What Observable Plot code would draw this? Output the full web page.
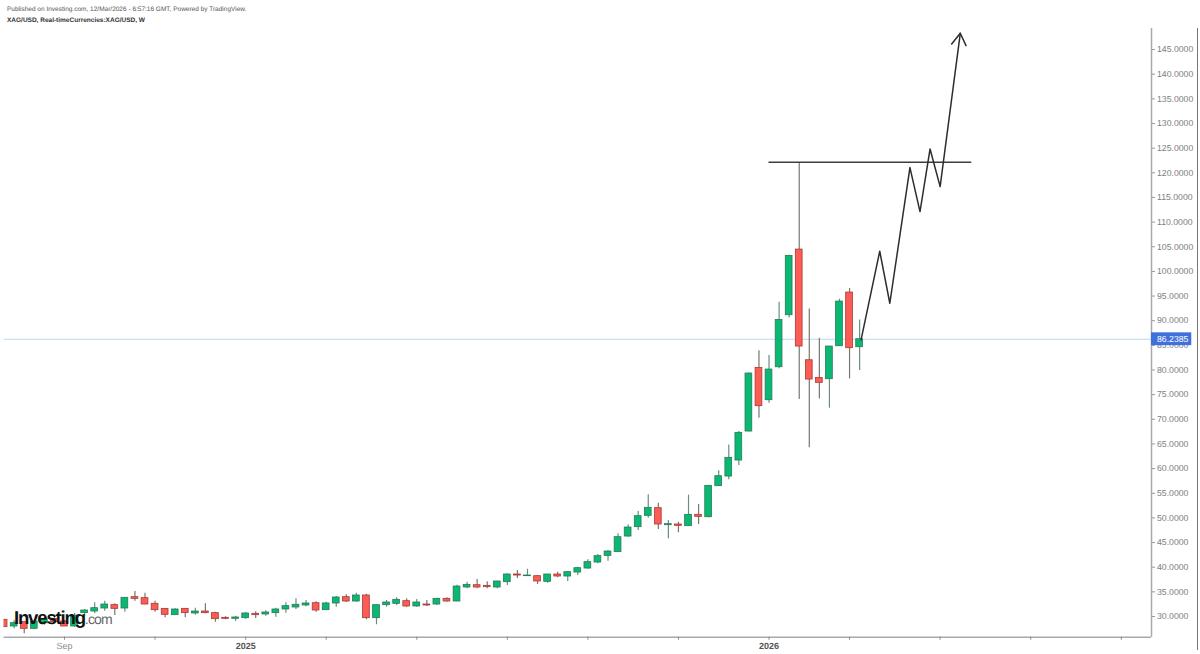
<!DOCTYPE html>
<html><head><meta charset="utf-8">
<script src="https://cdn.jsdelivr.net/npm/d3@7"></script>
<script src="https://cdn.jsdelivr.net/npm/@observablehq/plot@0.6"></script>
<style>
html,body{margin:0;padding:0;background:#fff;overflow:hidden;width:1200px;height:654px;font-family:"Liberation Sans",Arial,sans-serif;text-rendering:geometricPrecision}
#hdr{height:28px;box-sizing:border-box;padding:3.5px 0 0 7px;color:#555;font-size:6.5px;line-height:11px;white-space:nowrap}
#hdr b{color:#333}
#wm{position:absolute;left:14px;top:603px;white-space:nowrap;line-height:30px}
#wm .a{font-size:18.6px;font-weight:700;color:#111;letter-spacing:-1.2px}
#wm .b{font-size:14px;color:#666;letter-spacing:-.8px}
svg{display:block}
svg text{text-rendering:geometricPrecision}
</style></head><body>
<div id="hdr">Published on Investing.com, 12/Mar/2026 - 6:57:16 GMT, Powered by TradingView.<br><b>XAG/USD, Real-timeCurrencies:XAG/USD, W</b></div>
<div id="chart"></div>
<div id="wm"><span class="a">Investing</span><span class="b">.com</span></div>
<script>
const open = [29.32,27.97,28.85,27.50,28.6,29.5,28.99,27.97,30.68,31.01,31.62,32.30,31.62,33.92,33.72,32.57,31.55,30.27,31.55,30.61,31.01,30.68,29.73,29.53,29.66,30.54,30.41,30.68,31.42,31.83,32.23,32.70,31.28,32.64,33.92,33.04,34.26,29.66,32.30,32.57,33.11,32.03,32.43,32.43,33.58,33.04,35.88,36.35,36.22,35.88,36.96,38.52,38.18,38.18,37.03,38.52,38.11,38.92,39.73,40.95,42.30,43.05,46.22,48.12,50.42,51.97,48.52,48.66,48.32,50.62,50.14,56.43,58.39,61.64,67.52,80.43,73.87,80.56,91.11,104.43,81.98,78.40,78.13,84.82,95.71,84.62];
const close = [27.84,28.65,27.50,28.99,29.4,28.9,27.97,30.2,31.22,31.69,32.43,31.55,33.79,33.58,32.43,31.28,30.34,31.42,30.68,31.01,30.68,29.46,29.53,29.80,30.61,30.27,30.81,31.42,32.10,32.37,32.64,31.22,32.64,33.85,33.04,34.26,29.66,32.30,32.84,33.38,32.03,32.84,32.23,33.58,33.04,36.08,36.42,35.88,35.95,37.10,38.52,38.31,38.31,37.10,38.52,38.11,38.99,39.80,41.02,42.24,43.18,46.09,48.05,50.35,52.04,48.66,48.73,48.39,50.62,50.21,56.50,58.46,62.18,67.25,79.28,72.66,80.09,90.16,103.14,84.76,78.06,77.39,84.76,93.88,84.42,86.2385];
const high = [29.32,29.19,28.85,29.19,29.8,30,29.19,30.6,31.35,32.77,33.11,32.57,33.79,35.07,34.73,33.11,31.55,31.55,31.55,31.69,32.57,30.88,29.93,30.07,30.81,30.95,31.15,31.69,32.77,33.58,33.24,32.97,32.91,34.06,34.39,34.73,34.53,32.30,33.24,33.79,33.58,33.45,33.24,33.72,33.79,36.35,36.96,37.50,37.03,37.17,38.65,39.33,39.60,38.31,38.52,38.99,39.13,40.00,41.49,42.57,43.38,46.76,48.59,51.29,54.67,52.98,49.47,49.13,54.61,52.71,56.57,59.54,64.81,67.52,79.4,83.88,82.93,93.75,103.3,122.0,92.39,86.45,84.76,94.36,96.52,90.16];
const low = [27.84,27.50,26.48,27.30,28.2,28.6,27.97,27.8,30.2,30.54,31.08,30.20,30.88,33.11,32.37,30.88,29.73,30.2,29.73,30.27,30.54,28.85,29.32,28.99,29.46,29.59,30.07,29.86,30.68,31.42,31.96,30.88,31.22,31.89,32.84,32.91,29.32,28.31,31.89,32.23,31.89,31.89,32.03,32.23,32.91,32.97,35.61,35.61,35.61,35.61,36.29,37.71,38.11,36.49,36.76,37.84,37.10,38.31,39.60,40.68,41.22,43.05,46.09,47.44,49.94,47.64,45.75,46.97,48.25,48.66,50.01,56.36,57.72,60.62,67.4,70.22,73.26,80.23,90.57,74.01,64.21,74.14,72.25,84.8,78.20,79.89];
const firstWeek = new Date(Date.UTC(2024,6,22));
const dates = open.map((_,i)=>d3.utcDay.offset(firstWeek,i*7));
const candles = open.map((o,i)=>({date:dates[i],open:o,close:close[i],high:high[i],low:low[i]}));
const up = candles.filter(d=>d.close>=d.open), down = candles.filter(d=>d.close<d.open);

const pathDates = ["2026-03-10","2026-03-23","2026-03-30","2026-04-13","2026-04-20","2026-04-27","2026-05-04","2026-05-18"];
const pathValues = [86.11,104.09,93.54,121.06,112.13,124.84,117.20,148.30];
const arrowDates = ["2026-05-12","2026-05-18","2026-05-22"];
const arrowValues = [146.14,148.30,145.8];
const levelDates = ["2026-01-05","2026-05-26"];
const levelValue = 122.15;
const lastPrice = 86.2385;
const priceTicks = d3.range(30,146,5);
const timeTicks = ["2024-09-02","2024-11-04","2025-01-06","2025-03-03","2025-05-05","2025-07-07","2025-09-01","2025-11-03","2026-01-05","2026-03-02","2026-05-04","2026-07-06","2026-09-07"];
const monthLabels = [["2024-09-02","Sep"]];
const yearLabels = [["2025-01-06","2025"],["2026-01-05","2026"]];
const toD = s=>new Date(s+"T00:00:00Z");
const halfBody = 2.35*864e5;
const axisEnd = toD("2026-09-28"), outerEnd = toD("2026-10-30"), badgeEnd = toD("2026-10-26");

function bodyMark(data,fill,stroke){
  return Plot.rectY(data,{x1:d=>new Date(+d.date-halfBody),x2:d=>new Date(+d.date+halfBody),y1:"open",y2:"close",fill,stroke,strokeWidth:.8,clip:true});
}
const chart = Plot.plot({
  width:1200,height:626,marginLeft:3.6,marginRight:49,marginTop:0,marginBottom:17.3,
  style:{background:"#fff",fontFamily:'"Liberation Sans",Arial,sans-serif'},
  x:{type:"utc",domain:[firstWeek,axisEnd]},
  y:{domain:[25.8,149.27]},
  marks:[
    Plot.ruleY([lastPrice],{stroke:"#b7d6f2",strokeWidth:1}),
    Plot.ruleY([25.8],{stroke:"#a9a9a9",strokeWidth:1.5}),
    Plot.ruleX([axisEnd],{stroke:"#a9a9a9",strokeWidth:1.5}),
    Plot.ruleX([outerEnd],{y1:23.1,y2:149.27,stroke:"#777",strokeWidth:1}),
    Plot.axisY(priceTicks,{anchor:"right",tickSize:3,tickPadding:2.5,tickFormat:d=>d.toFixed(4),fontSize:8.7,color:"#7d7d7d",stroke:"#999",label:null}),
    Plot.axisX(timeTicks.map(toD),{anchor:"bottom",tickSize:3,tickFormat:()=>"",stroke:"#888",label:null}),
    Plot.text(monthLabels,{x:d=>toD(d[0]),y:25.8,text:d=>d[1],dy:8.5,fill:"#8a8a8a",fontSize:9}),
    Plot.text(yearLabels,{x:d=>toD(d[0]),y:25.8,text:d=>d[1],dy:8.5,fill:"#555",fontSize:9,fontWeight:"bold"}),
    Plot.ruleX(up,{x:"date",y1:"low",y2:"high",stroke:"#6a8e7f",strokeWidth:1.2,clip:true}),
    Plot.ruleX(down,{x:"date",y1:"low",y2:"high",stroke:"#74796f",strokeWidth:1.2,clip:true}),
    bodyMark(up,"#0bb873","#267a58"),
    bodyMark(down,"#fb5c54","#a83a36"),
    Plot.ruleY([levelValue],{x1:toD(levelDates[0]),x2:toD(levelDates[1]),stroke:"#3d3d3d",strokeWidth:1.5}),
    Plot.line(pathDates.map((d,i)=>({d:toD(d),v:pathValues[i]})),{x:"d",y:"v",stroke:"#2d2d2d",strokeWidth:1.5,curve:"linear"}),
    Plot.line(arrowDates.map((d,i)=>({d:toD(d),v:arrowValues[i]})),{x:"d",y:"v",stroke:"#2d2d2d",strokeWidth:1.5,curve:"linear"}),
    Plot.rectY([lastPrice],{x1:axisEnd,x2:badgeEnd,y1:d=>d-1.3,y2:d=>d+1.3,fill:"#3f70dc"}),
    Plot.text([lastPrice],{x:axisEnd,y:d=>d,text:d=>d.toFixed(4),dx:5.5,textAnchor:"start",fill:"#fff",fontSize:8.7})
  ]
});
document.getElementById("chart").append(chart);
</script>
</body></html>
